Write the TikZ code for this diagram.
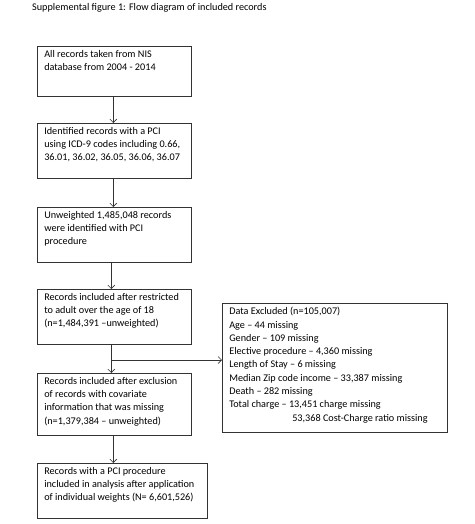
\documentclass[tikz,border=0pt]{standalone}
\usepackage{fontspec}
\setmainfont{Carlito}
\usetikzlibrary{arrows.meta,calc}
\tikzset{
  box/.style={draw=black!80, line width=0.6pt, inner xsep=7pt, inner ysep=4pt, anchor=north west, font=\fontsize{10.2}{13.3}\selectfont},
  arr/.style={draw=black!80, line width=0.6pt, -{Straight Barb[length=3.5pt,width=7pt]}},
  ttl/.style={anchor=west, inner sep=0pt, font=\fontsize{10.2}{12}\selectfont}
}
\newcommand{\bx}[3]{\parbox[c][#2pt][t]{#1pt}{\raggedright #3}}
\begin{document}
\begin{tikzpicture}[x=1pt,y=-1pt]
\useasboundingbox (0,0) rectangle (474,524);
\node[ttl] (title) at (32,8) {Supplemental figure 1: Flow diagram of included records};
\node[box] (b1) at (37,46) {\bx{140}{42}{All records taken from NIS\\ database from 2004 - 2014}};
\node[box] (b2) at (37,123) {\bx{140}{47}{Identified records with a PCI\\ using ICD-9 codes including 0.66,\\ 36.01, 36.02, 36.05, 36.06, 36.07}};
\node[box] (b3) at (37,207) {\bx{140}{47}{Unweighted 1,485,048 records\\ were identified with PCI\\ procedure}};
\node[box] (b4) at (37,289) {\bx{140}{47}{Records included after restricted\\ to adult over the age of 18\\ (n=1,484,391 --unweighted)}};
\node[box] (b5) at (37,373) {\bx{140}{54}{Records included after exclusion\\ of records with covariate\\ information that was missing\\ (n=1,379,384 -- unweighted)}};
\node[box] (b6) at (37,463) {\bx{156}{47}{Records with a PCI procedure\\ included in analysis after application\\ of individual weights (N= 6,601,526)}};
\node[box] (ex) at (222,303) {\bx{211}{121}{Data Excluded (n=105,007)\\
Age -- 44 missing\\
Gender -- 109 missing\\
Elective procedure -- 4,360 missing\\
Length of Stay -- 6 missing\\
Median Zip code income -- 33,387 missing\\
Death -- 282 missing\\
Total charge -- 13,451 charge missing\\
\hspace*{63pt}53,368 Cost-Charge ratio missing}};
\draw[arr] ([xshift=-1pt]b1.south) -- ([xshift=-1pt]b2.north);
\draw[arr] ([xshift=-1pt]b2.south) -- ([xshift=-1pt]b3.north);
\draw[arr] ([xshift=-3pt]b3.south) -- ([xshift=-3pt]b4.north);
\draw[arr] ([xshift=-3pt]b4.south) -- ([xshift=-3pt]b5.north);
\coordinate (br) at (111,360);
\draw[arr] (br) -- (br -| ex.west);
\draw[arr] ([xshift=-1pt]b5.south) -- ([xshift=-1pt]b5.south |- b6.north);
\end{tikzpicture}
\end{document}
